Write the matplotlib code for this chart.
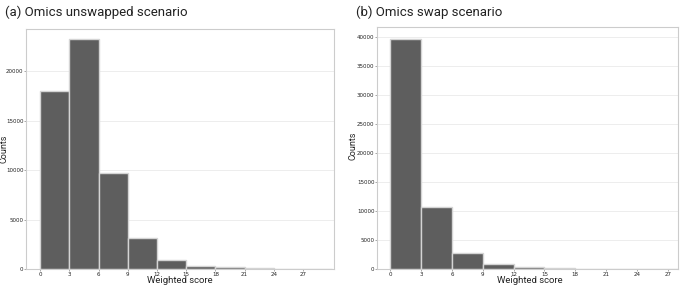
import matplotlib
matplotlib.use("Agg")
import matplotlib.pyplot as plt
import numpy as np

bin_edges = [0, 3, 6, 9, 12, 15, 18, 21, 24, 27, 30]
xticks = [0, 3, 6, 9, 12, 15, 18, 21, 24, 27]

unswapped_counts = [18000, 23300, 9700, 3100, 940, 340, 170, 80, 30, 10]
swap_counts = [39650, 10650, 2700, 810, 350, 100, 40, 15, 5, 2]

titles = ["(a) Omics unswapped scenario", "(b) Omics swap scenario"]
yticks_a = [0, 5000, 10000, 15000, 20000]
yticks_b = [0, 5000, 10000, 15000, 20000, 25000, 30000, 35000, 40000]

plt.rcParams['font.family'] = ['DejaVu Sans']
fig = plt.figure(figsize=(6.85, 2.85), dpi=100)

W, H = 685, 285

def add_axes(l, t, r, b):
    return fig.add_axes([l / W, 1 - b / H, (r - l) / W, (b - t) / H])

axA = add_axes(26, 29, 334, 269)
axB = add_axes(377, 27, 678, 269)

face = '#5e5e5e'
edge = '#d4d4d4'
spine_c = '#cccccc'

configs = [
    (axA, unswapped_counts, yticks_a, (-1.47, 30.2), (0, 24300), titles[0], 5,
     (-0.071, 0.5), (0.5, -0.046)),
    (axB, swap_counts, yticks_b, (-1.3, 28.0), (0, 41770), titles[1], 356,
     (-0.08, 0.508), (0.508, -0.046)),
]

for ax, counts, yt, xl, yl, title, tx, ylc, xlc in configs:
    lefts = bin_edges[:-1]
    widths = np.diff(bin_edges)
    ax.bar(lefts, counts, width=widths, align='edge', color=face,
           edgecolor=edge, linewidth=1.0, zorder=2)
    ax.set_xlim(*xl)
    ax.set_ylim(*yl)
    ax.set_xticks(xticks)
    ax.set_yticks(yt)
    ax.tick_params(axis='both', labelsize=4, length=1.2, width=0.4,
                   color='#666666', pad=0.6, labelcolor='#222222')
    ax.grid(axis='y', color='#eaeaea', linewidth=0.6, zorder=0)
    ax.set_axisbelow(True)
    for s in ax.spines.values():
        s.set_color(spine_c)
        s.set_linewidth(0.8)
    ax.set_xlabel('Weighted score', fontsize=6.8, color='#222222', family='Roboto')
    ax.set_ylabel('Counts', fontsize=6.5, color='#222222', family='Roboto')
    ax.yaxis.set_label_coords(*ylc)
    ax.xaxis.set_label_coords(*xlc)
    ax.xaxis.label.set_va('center')
    ax.yaxis.label.set_va('center')
    fig.text(tx / W, 1 - 12 / H, title, fontsize=9.5, va='center',
             ha='left', color='#222222', family='Roboto')

fig.savefig('out.png', dpi=100)
